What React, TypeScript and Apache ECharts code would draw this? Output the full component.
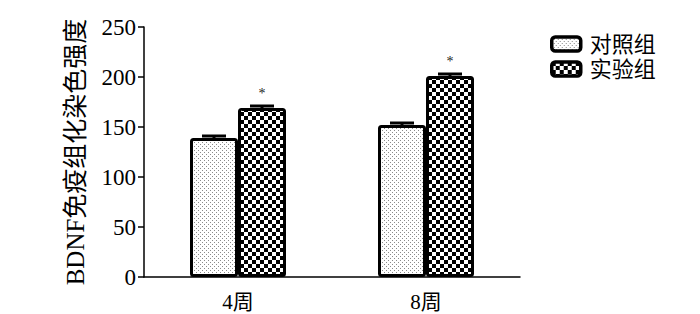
import React, { useEffect, useRef } from "react";
import * as echarts from "echarts";

const categories = ["4周", "8周"];
const seriesNames = ["对照组", "实验组"];
const controlValues = [139, 152];
const controlErrors = [2, 2];
const experimentValues = [169, 201];
const experimentErrors = [2, 2];
const yTicks = { min: 0, max: 250, interval: 50 };
const yAxisName = "BDNF免疫组化染色强度";
const significance = ["*", "*"];

const FONT = "'Liberation Serif', 'Noto Sans CJK SC', serif";

function dotPattern(): HTMLCanvasElement {
  const c = document.createElement("canvas");
  c.width = 4;
  c.height = 4;
  const ctx = c.getContext("2d")!;
  ctx.fillStyle = "#ffffff";
  ctx.fillRect(0, 0, 4, 4);
  ctx.fillStyle = "#8a8a8a";
  ctx.fillRect(0, 0, 1, 1);
  ctx.fillRect(2, 2, 1, 1);
  return c;
}

function checkerPattern(): HTMLCanvasElement {
  const c = document.createElement("canvas");
  c.width = 8;
  c.height = 8;
  const ctx = c.getContext("2d")!;
  ctx.fillStyle = "#ffffff";
  ctx.fillRect(0, 0, 8, 8);
  ctx.fillStyle = "#000000";
  ctx.fillRect(0, 0, 4, 4);
  ctx.fillRect(4, 4, 4, 4);
  return c;
}

export default function App() {
  const ref = useRef<HTMLDivElement>(null);
  useEffect(() => {
    if (!ref.current) return;
    const chart = echarts.init(ref.current, null, { renderer: "svg" });
    const BAR_W = 48;
    const errData: number[][] = [];
    controlValues.forEach((v, i) => errData.push([i, v, controlErrors[i], -1]));
    experimentValues.forEach((v, i) => errData.push([i, v, experimentErrors[i], 1]));

    chart.setOption({
      animation: false,
      grid: { left: 144, right: 180, top: 27, bottom: 37 },
      legend: {
        orient: "vertical",
        left: 550,
        top: 33,
        padding: 0,
        itemWidth: 29,
        itemHeight: 14,
        itemGap: 3,
        data: seriesNames,
        itemStyle: { borderWidth: 3.5, borderColor: "#000" },
        textStyle: { fontFamily: FONT, fontSize: 22, color: "#000", padding: [0, 0, 0, 4] },
      },
      xAxis: {
        type: "category",
        data: categories,
        axisLine: { lineStyle: { color: "#000", width: 1.5 } },
        axisTick: { show: false },
        axisLabel: { fontFamily: FONT, fontSize: 21, color: "#000", margin: 14 },
      },
      yAxis: {
        type: "value",
        min: yTicks.min,
        max: yTicks.max,
        interval: yTicks.interval,
        name: yAxisName,
        nameLocation: "middle",
        nameGap: 56,
        nameTextStyle: { fontFamily: FONT, fontSize: 25, color: "#000" },
        axisLine: { show: true, lineStyle: { color: "#000", width: 1.5 } },
        axisTick: { show: true, length: 6, lineStyle: { color: "#000", width: 1.5 } },
        axisLabel: { fontFamily: FONT, fontSize: 23, color: "#000", margin: 8 },
        splitLine: { show: false },
      },
      series: [
        {
          name: seriesNames[0],
          type: "bar",
          data: controlValues,
          barWidth: BAR_W,
          barGap: "0%",
          itemStyle: {
            color: { image: dotPattern(), repeat: "repeat" },
            borderColor: "#000",
            borderWidth: 3,
            borderRadius: 2,
          },
        },
        {
          name: seriesNames[1],
          type: "bar",
          data: experimentValues,
          barWidth: BAR_W,
          barGap: "0%",
          itemStyle: {
            color: { image: checkerPattern(), repeat: "repeat" },
            borderColor: "#000",
            borderWidth: 3,
            borderRadius: 2,
          },
          label: {
            show: true,
            position: "top",
            distance: 8,
            formatter: (p: any) => significance[p.dataIndex],
            fontFamily: FONT,
            fontSize: 14,
            color: "#222",
            textBorderWidth: 0,
          },
        },
        {
          type: "custom",
          data: errData,
          z: 5,
          renderItem: (params: any, api: any) => {
            const idx = api.value(0);
            const v = api.value(1);
            const e = api.value(2);
            const side = api.value(3);
            const base = api.coord([idx, v]);
            const top = api.coord([idx, v + e]);
            const x = base[0] + side * (BAR_W / 2);
            const half = 12;
            return {
              type: "group",
              children: [
                {
                  type: "line",
                  shape: { x1: x, y1: base[1], x2: x, y2: top[1] },
                  style: { stroke: "#000", lineWidth: 3 },
                },
                {
                  type: "line",
                  shape: { x1: x - half, y1: top[1], x2: x + half, y2: top[1] },
                  style: { stroke: "#000", lineWidth: 3 },
                },
              ],
            };
          },
        },
      ],
    });
    return () => chart.dispose();
  }, []);
  return (
    <div
      ref={ref}
      style={{ position: "absolute", left: 0, top: 0, width: 700, height: 314 }}
    />
  );
}
